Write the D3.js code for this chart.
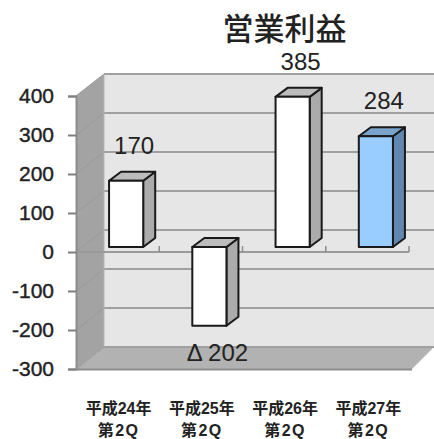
<!DOCTYPE html>
<html>
<head>
<meta charset="utf-8">
<script src="https://cdn.jsdelivr.net/npm/d3@7"></script>
<style>
  html, body { margin: 0; background: #fff; }
  svg { display: block; }
  text { font-family: "Liberation Sans", "Noto Sans CJK JP", sans-serif; fill: #222; }
</style>
</head>
<body>
<svg width="434" height="439"></svg>
<script>
const categories = ['平成24年', '平成25年', '平成26年', '平成27年'];
const quarters = ['第2Q', '第2Q', '第2Q', '第2Q'];
const values = [170, -202, 385, 284];
const valueLabels = ['170', 'Δ 202', '385', '284'];
const yTicks = [400, 300, 200, 100, 0, -100, -200, -300];

const svg = d3.select('svg');
const width = +svg.attr('width');

const x0 = 76;
const x1 = 409;

// depth of the fake 3d box
const wallDx = 28;
const wallDy = -22;
const barDx = 12;
const barDy = -9;
const barLift = -5;
const barShift = 8.5;

const y = d3.scaleLinear().domain([-300, 400]).range([369, 96]);
const x = d3.scaleBand().domain(d3.range(categories.length))
    .range([x0 + barShift, x1 + barShift]).paddingInner(0.59).paddingOuter(0.295);
const step = x.step();

const pts = a => a.map(p => p.join(',')).join(' ');

// back wall
svg.append('rect')
    .attr('x', x0 + wallDx)
    .attr('y', y(400) + wallDy)
    .attr('width', width - x0 - wallDx)
    .attr('height', y(-300) - y(400))
    .attr('fill', '#e6e6e6');

// left wall
svg.append('polygon')
    .attr('points', pts([
        [x0, y(400)], [x0 + wallDx, y(400) + wallDy],
        [x0 + wallDx, y(-300) + wallDy], [x0, y(-300)]
    ]))
    .attr('fill', '#a3a3a3');

// floor
svg.append('polygon')
    .attr('points', pts([
        [x0, y(-300)], [x0 + wallDx, y(-300) + wallDy],
        [width, y(-300) + wallDy], [x1 + 3, y(-300)]
    ]))
    .attr('fill', '#b2b2b2');
svg.append('line')
    .attr('x1', x0).attr('x2', x1 + 3)
    .attr('y1', y(-300) + 0.5).attr('y2', y(-300) + 0.5)
    .attr('stroke', '#8c8c8c').attr('stroke-width', 2);

// gridlines, back wall and slanted part on the left wall
svg.append('g').selectAll('line').data(yTicks).join('line')
    .attr('x1', x0 + wallDx).attr('x2', width)
    .attr('y1', d => y(d) + wallDy).attr('y2', d => y(d) + wallDy)
    .attr('stroke', '#a0a0a0').attr('stroke-width', 2);
svg.append('g').selectAll('line').data(yTicks).join('line')
    .attr('x1', x0).attr('x2', x0 + wallDx)
    .attr('y1', d => y(d)).attr('y2', d => y(d) + wallDy)
    .attr('stroke', '#999').attr('stroke-width', 1);
svg.append('line')
    .attr('x1', x0 + wallDx).attr('x2', x0 + wallDx)
    .attr('y1', y(400) + wallDy).attr('y2', y(-300) + wallDy)
    .attr('stroke', '#b5b5b5');

// zero line with category ticks
svg.append('line')
    .attr('x1', x0).attr('x2', x1)
    .attr('y1', y(0)).attr('y2', y(0))
    .attr('stroke', '#9a9a9a').attr('stroke-width', 2);
svg.append('g').selectAll('line').data(categories).join('line')
    .attr('x1', (d, i) => x0 + step * (i + 1))
    .attr('x2', (d, i) => x0 + step * (i + 1))
    .attr('y1', y(0)).attr('y2', y(0) - 6)
    .attr('stroke', '#8c8c8c').attr('stroke-width', 1.5);

// y axis
const yAxis = svg.append('g')
    .attr('transform', `translate(${x0},0)`)
    .call(d3.axisLeft(y).tickValues(yTicks).tickSize(8).tickPadding(14).tickFormat(d => String(d)));
yAxis.select('.domain').attr('stroke', '#8c8c8c').attr('stroke-width', 2);
yAxis.selectAll('.tick line').attr('stroke', '#7f7f7f').attr('stroke-width', 2);
yAxis.selectAll('text')
    .style('font-family', '"Liberation Sans", sans-serif')
    .style('font-size', '21px')
    .style('stroke', '#222')
    .style('stroke-width', '0.4px')
    .attr('fill', '#222');

// bars
const bars = svg.append('g').selectAll('g').data(values).join('g');
const barTop = d => y(Math.max(d, 0)) + barLift;
const barBottom = d => y(Math.min(d, 0)) + barLift;
const colors = i => i === 3
    ? { front: '#99ccff', side: '#5f87b2', top: '#7aa3cc' }
    : { front: '#ffffff', side: '#ababab', top: '#bcbcbc' };

bars.append('polygon')
    .attr('points', (d, i) => pts([
        [x(i) + x.bandwidth(), barTop(d)],
        [x(i) + x.bandwidth() + barDx, barTop(d) + barDy],
        [x(i) + x.bandwidth() + barDx, barBottom(d) + barDy],
        [x(i) + x.bandwidth(), barBottom(d)]
    ]))
    .attr('fill', (d, i) => colors(i).side);
bars.append('polygon')
    .attr('points', (d, i) => pts([
        [x(i), barTop(d)],
        [x(i) + barDx, barTop(d) + barDy],
        [x(i) + x.bandwidth() + barDx, barTop(d) + barDy],
        [x(i) + x.bandwidth(), barTop(d)]
    ]))
    .attr('fill', (d, i) => colors(i).top);
bars.append('rect')
    .attr('x', (d, i) => x(i))
    .attr('y', d => barTop(d))
    .attr('width', x.bandwidth())
    .attr('height', d => barBottom(d) - barTop(d))
    .attr('fill', (d, i) => colors(i).front);
bars.selectAll('polygon, rect')
    .attr('stroke', '#1a1a1a')
    .attr('stroke-width', 2)
    .attr('stroke-linejoin', 'round');

// value labels
svg.append('g').selectAll('text').data(values).join('text')
    .attr('x', (d, i) => x(i) + x.bandwidth() / 2 + 8)
    .attr('y', d => d < 0 ? barBottom(d) + 35 : barTop(d) - 27)
    .attr('text-anchor', 'middle')
    .style('font-size', '24px')
    .text((d, i) => valueLabels[i]);

// category labels
const catX = i => x0 + step * (i + 0.5) + 1;
svg.append('g').selectAll('text').data(categories).join('text')
    .attr('x', (d, i) => catX(i))
    .attr('y', 414)
    .attr('text-anchor', 'middle')
    .style('font-size', '16px')
    .style('font-weight', 'bold')
    .text(d => d);
svg.append('g').selectAll('text').data(quarters).join('text')
    .attr('x', (d, i) => catX(i))
    .attr('y', 436)
    .attr('text-anchor', 'middle')
    .style('font-size', '16px')
    .style('font-weight', 'bold')
    .style('letter-spacing', '1.5px')
    .text(d => d);

// title
svg.append('text')
    .attr('x', 284.5)
    .attr('y', 40)
    .attr('text-anchor', 'middle')
    .style('font-size', '31px')
    .style('font-family', '"Noto Sans CJK JP", sans-serif')
    .style('font-weight', '500')
    .text('営業利益');
</script>
</body>
</html>
